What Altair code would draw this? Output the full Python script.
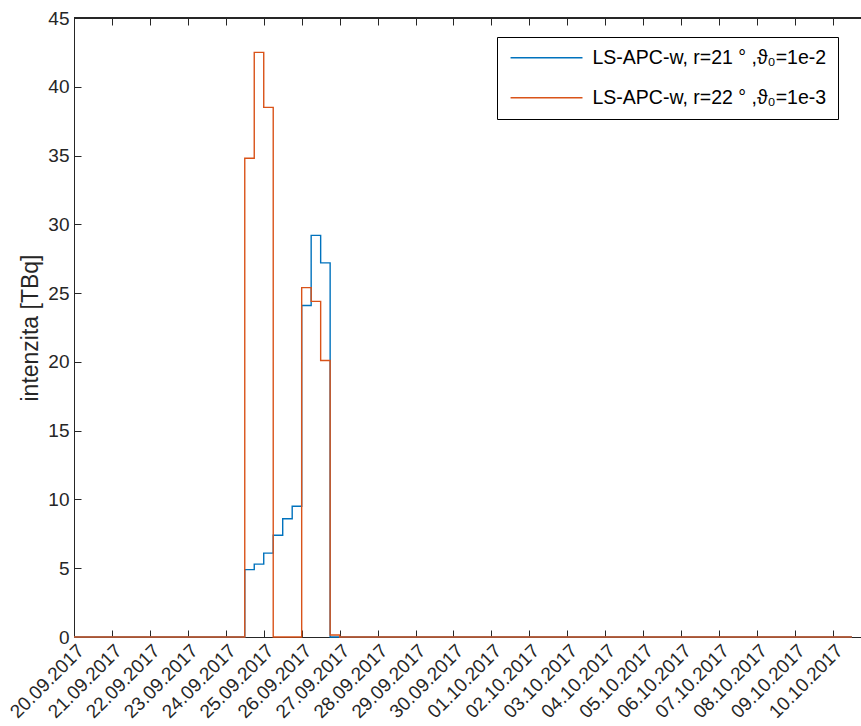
import altair as alt
import pandas as pd

# Daily tick labels along the time axis
tick_labels = [
    "20.09.2017", "21.09.2017", "22.09.2017", "23.09.2017", "24.09.2017",
    "25.09.2017", "26.09.2017", "27.09.2017", "28.09.2017", "29.09.2017",
    "30.09.2017", "01.10.2017", "02.10.2017", "03.10.2017", "04.10.2017",
    "05.10.2017", "06.10.2017", "07.10.2017", "08.10.2017", "09.10.2017",
    "10.10.2017",
]
y_ticks = [0, 5, 10, 15, 20, 25, 30, 35, 40, 45]

# Release intensity estimates [TBq] in 6-hour steps starting 20.09.2017 00:00 UTC
series_names = [
    "LS-APC-w, r=21 ° ,ϑ₀=1e-2",
    "LS-APC-w, r=22 ° ,ϑ₀=1e-3",
]
blue_values = [0.0] * 18 + [4.9, 5.3, 6.1, 7.4, 8.6, 9.5, 24.1, 29.2, 27.2] + [0.0] * 56
orange_values = [0.0] * 18 + [34.8, 42.5, 38.5, 0.0, 0.0, 0.0, 25.4, 24.4, 20.1, 0.15] + [0.0] * 55
colors = ["#0072BD", "#D95319"]

start = pd.Timestamp("2017-09-20T00:00:00", tz="UTC")
end = pd.Timestamp("2017-10-10T17:45:00", tz="UTC")
y_max = 45


def iso(ts):
    return ts.strftime("%Y-%m-%dT%H:%M:%SZ")


times = [iso(start + pd.Timedelta(hours=6 * i)) for i in range(len(blue_values))]
df_blue = pd.DataFrame({"t": times, "v": blue_values, "s": series_names[0]})
df_orange = pd.DataFrame({"t": times, "v": orange_values, "s": series_names[1]})

axis_color = "#262626"
font = "Liberation Sans"

dt = lambda ts: alt.DateTime(year=ts.year, month=ts.month, date=ts.day,
                             hours=ts.hour, minutes=ts.minute, utc=True)
x_scale = alt.Scale(type="utc", domain=[dt(start), dt(end)])
y_scale = alt.Scale(domain=[0, y_max], nice=False, zero=True)
day_ticks = {"interval": "day", "step": 1}

# Main axes: labels, title and the axis lines
x_axis = alt.Axis(
    orient="bottom", tickCount=day_ticks, format="%d.%m.%Y",
    labelAngle=315, labelAlign="right",
    labelBaseline="top", labelPadding=4, labelFontSize=19, labelColor=axis_color,
    labelFont=font, labelOverlap=False, labelBound=False, labelFlush=False,
    ticks=False, grid=False, domainColor=axis_color, title=None,
)
y_axis = alt.Axis(
    orient="left", values=y_ticks, labelFontSize=19, labelColor=axis_color,
    labelFont=font, labelPadding=5, ticks=False, grid=False,
    domainColor=axis_color, title="intenzita [TBq]", titleFontSize=23,
    titleFont=font, titleFontWeight="normal", titleColor=axis_color,
    titlePadding=5,
)

# Tick-only axes pulled 7 px inside the box, so their ticks point inwards
tick_only = dict(offset=-7, tickSize=7, tickColor=axis_color, tickWidth=1,
                 labels=False, domain=False, grid=False, title=None)
x_inner_bottom = alt.Axis(orient="bottom", tickCount=day_ticks, **tick_only)
x_inner_top = alt.Axis(orient="top", tickCount=day_ticks, **tick_only)
y_inner_left = alt.Axis(orient="left", values=y_ticks, **tick_only)

# Long horizontal line used as the legend key; drawn from the symbol's left edge
legend_line = "M-1,0H9"

color = alt.Color(
    "s:N",
    scale=alt.Scale(domain=series_names, range=colors),
    legend=alt.Legend(
        orient="none", legendX=423, legendY=19, title=None,
        symbolType=legend_line, symbolSize=207, symbolStrokeWidth=1.3,
        labelFontSize=19.5, labelFont=font, labelColor="black", labelLimit=500,
        labelOffset=65, strokeColor="black", fillColor="white", padding=11,
        rowPadding=19, cornerRadius=0,
    ),
)

blue_line = alt.Chart(df_blue).mark_line(interpolate="step-after", strokeWidth=1.4).encode(
    x=alt.X("t:T", scale=x_scale, axis=x_axis),
    y=alt.Y("v:Q", scale=y_scale, axis=y_axis),
    color=color,
)
orange_line = alt.Chart(df_orange).mark_line(interpolate="step-after", strokeWidth=1.4).encode(
    x=alt.X("t:T", scale=x_scale, axis=x_inner_bottom),
    y=alt.Y("v:Q", scale=y_scale, axis=y_inner_left),
    color=color,
)
# Unstroked copy of the orange series that carries the top tick axis
top_axis_carrier = alt.Chart(df_orange).mark_line(
    interpolate="step-after", strokeOpacity=0, color=colors[1]
).encode(
    x=alt.X("t:T", scale=x_scale, axis=x_inner_top),
    y=alt.Y("v:Q", scale=y_scale, axis=None),
)
top_border = alt.Chart(df_orange).mark_rule(color=axis_color, strokeWidth=1).encode(
    y=alt.YDatum(y_max, scale=y_scale, axis=None)
)

chart = alt.layer(
    blue_line, orange_line, top_axis_carrier, top_border,
).resolve_axis(x="independent", y="independent").properties(
    width=787, height=619,
    autosize=alt.AutoSizeParams(type="none"),
    padding={"left": 74, "top": 18, "right": 0, "bottom": 89},
).configure_view(stroke=None).configure(background="white")

chart.save("out.html", embed_options={"renderer": "svg", "actions": False})
